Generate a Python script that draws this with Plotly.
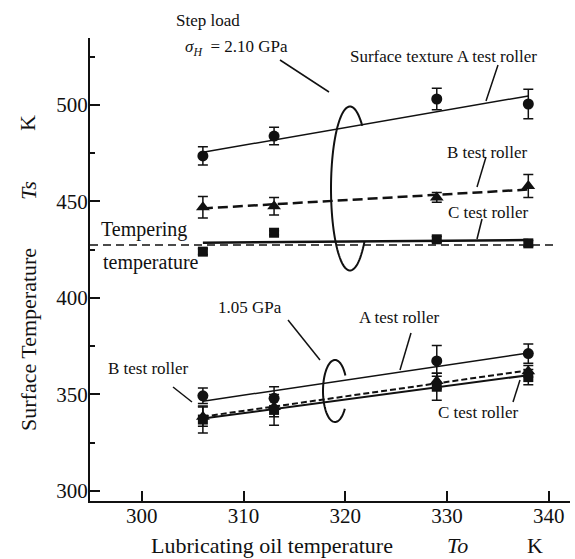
import numpy as np
import plotly.graph_objects as go

# ---------------- data ----------------
oil_temp = [306, 313, 329, 338]
fit_x = [306, 338]

# step load sigma_H = 2.10 GPa
hiA = [473.6, 483.9, 503.1, 500.5]
hiA_err = [4.7, 4.5, 5.6, 7.7]
hiB = [447.0, 447.5, 452.1, 458.0]
hiB_err = [5.6, 4.5, 2.5, 6.0]
hiC = [424.0, 433.8, 430.4, 428.3]
hiC_err = [1.5, 1.0, 1.5, 1.5]
hiA_fit = [475.5, 504.7]
hiB_fit = [446.4, 456.2]
hiC_fit = [428.6, 430.0]

# 1.05 GPa
loA = [349.3, 348.0, 367.4, 371.2]
loA_err = [4.0, 6.0, 8.0, 5.0]
loB = [338.5, 343.5, 357.0, 362.0]
loB_err = [5.0, 5.0, 4.0, 3.0]
loC = [337.0, 342.0, 354.0, 359.0]
loC_err = [7.0, 8.0, 7.0, 4.0]
loA_fit = [346.5, 371.5]
loB_fit = [338.5, 362.5]
loC_fit = [337.5, 360.0]

tempering = 427.4
tempering_x = [294.9, 340.9]

x_ticks = [300, 310, 320, 330, 340]
y_ticks = [300, 350, 400, 450, 500]

X_RANGE = [294.9, 342.1]
Y_RANGE = [294.8, 534.7]

# ---------------- layout geometry ----------------
WID, HEI = 575, 559
ML, MR, MT, MB = 90, 5, 38, 58
PW = WID - ML - MR
PH = HEI - MT - MB
BOT = HEI - MB

def P(px, py):
    return (px - ML) / PW, (BOT - py) / PH

INK = "#111111"
FONT = "Liberation Serif, Times New Roman, serif"

fig = go.Figure()

def line(x, y, dash="solid", width=1.5):
    fig.add_trace(go.Scatter(x=x, y=y, mode="lines", showlegend=False,
                             line=dict(color=INK, width=width, dash=dash),
                             hoverinfo="skip"))

def pts(y, err, symbol, size):
    fig.add_trace(go.Scatter(x=oil_temp, y=y, mode="markers", showlegend=False,
                             marker=dict(symbol=symbol, size=size, color=INK),
                             error_y=dict(type="data", array=err, visible=True,
                                          color=INK, thickness=1.5, width=5)))

# reference line
line(tempering_x, [tempering, tempering], dash="8px,5px", width=1.5)
# high load
line(fit_x, hiA_fit, width=1.5)
line(fit_x, hiB_fit, dash="10px,5px", width=2.5)
line(fit_x, hiC_fit, width=2.5)
# low load
line(fit_x, loA_fit, width=1.5)
line(fit_x, loB_fit, dash="6px,3px", width=2)
line(fit_x, loC_fit, width=2)

pts(hiA, hiA_err, "circle", 11)
pts(hiB, hiB_err, "triangle-up", 12)
pts(hiC, hiC_err, "square", 10)
pts(loA, loA_err, "circle", 11)
pts(loB, loB_err, "triangle-up", 12)
pts(loC, loC_err, "square", 10)

# ---------------- annotations ----------------
annots = []
def txt(text, px, py, size=17, angle=0):
    x, y = P(px, py)
    annots.append(dict(text=text, x=x, y=y, xref="paper", yref="paper",
                       xanchor="center", yanchor="middle", showarrow=False,
                       textangle=angle, font=dict(family=FONT, size=size, color=INK)))

txt("Step load", 208, 21)
txt("<i>σ</i><sub><i>H</i></sub>&nbsp;&nbsp;= 2.10 GPa", 236, 48)
txt("Surface texture A test roller", 443, 56)
txt("B test roller", 487, 152)
txt("C test roller", 488, 212)
txt("Tempering", 144, 229, size=20)
txt("temperature", 151, 262, size=20)
txt("1.05 GPa", 250, 307)
txt("A test roller", 399, 317)
txt("B test roller", 148, 368)
txt("C test roller", 478, 412)
# axis titles
txt("Lubricating oil temperature", 272, 545, size=22)
txt("<i>To</i>", 457, 545, size=22)
txt("K", 535, 545, size=22)
txt("Surface Temperature", 28, 340, size=22, angle=-90)
txt("<i>Ts</i>", 28, 190, size=22, angle=-90)
txt("K", 28, 123, size=22, angle=-90)

shapes = []
def seg(p0, p1, width=1.5):
    x0, y0 = P(*p0)
    x1, y1 = P(*p1)
    shapes.append(dict(type="line", xref="paper", yref="paper",
                       x0=x0, y0=y0, x1=x1, y1=y1,
                       line=dict(color=INK, width=width)))

seg((280, 60), (329, 92))
seg((498, 65), (486, 101))
seg((486, 157), (477, 187))
seg((482, 219), (477, 239))
seg((288, 320), (320, 360))
seg((411, 333), (400, 370))
seg((173, 387), (192, 402))
seg((513, 402), (520, 380))

def arc(cx, cy, a, b, t0, t1, width=2):
    t = np.radians(np.linspace(t0, t1, 80))
    xs = cx + a * np.cos(t)
    ys = cy - b * np.sin(t)
    parts = []
    for i, (px, py) in enumerate(zip(xs, ys)):
        x, y = P(px, py)
        parts.append(("M" if i == 0 else "L") + f"{x:.5f},{y:.5f}")
    shapes.append(dict(type="path", xref="paper", yref="paper", path=" ".join(parts),
                       line=dict(color=INK, width=width)))

arc(350, 188.5, 19, 82, 50, 320)
arc(335, 391, 12, 31, 30, 325)

axis_common = dict(showline=True, linecolor=INK, linewidth=2, showgrid=False,
                   zeroline=False, ticks="inside", tickcolor=INK, tickwidth=1.5,
                   ticklen=10, tickfont=dict(family=FONT, size=21, color=INK))

fig.update_layout(
    width=WID, height=HEI,
    margin=dict(l=ML, r=MR, t=MT, b=MB),
    paper_bgcolor="white", plot_bgcolor="white",
    xaxis=dict(range=X_RANGE, tickvals=x_ticks, ticklabelstandoff=-5, **axis_common),
    yaxis=dict(range=Y_RANGE, tickvals=y_ticks, ticklabelstandoff=-4,
               minor=dict(ticks="inside", ticklen=5, tickcolor=INK, tickwidth=1.5,
                          tickvals=[325, 375, 425, 475, 525]),
               **axis_common),
    annotations=annots, shapes=shapes,
)

fig.write_html("out.html")
